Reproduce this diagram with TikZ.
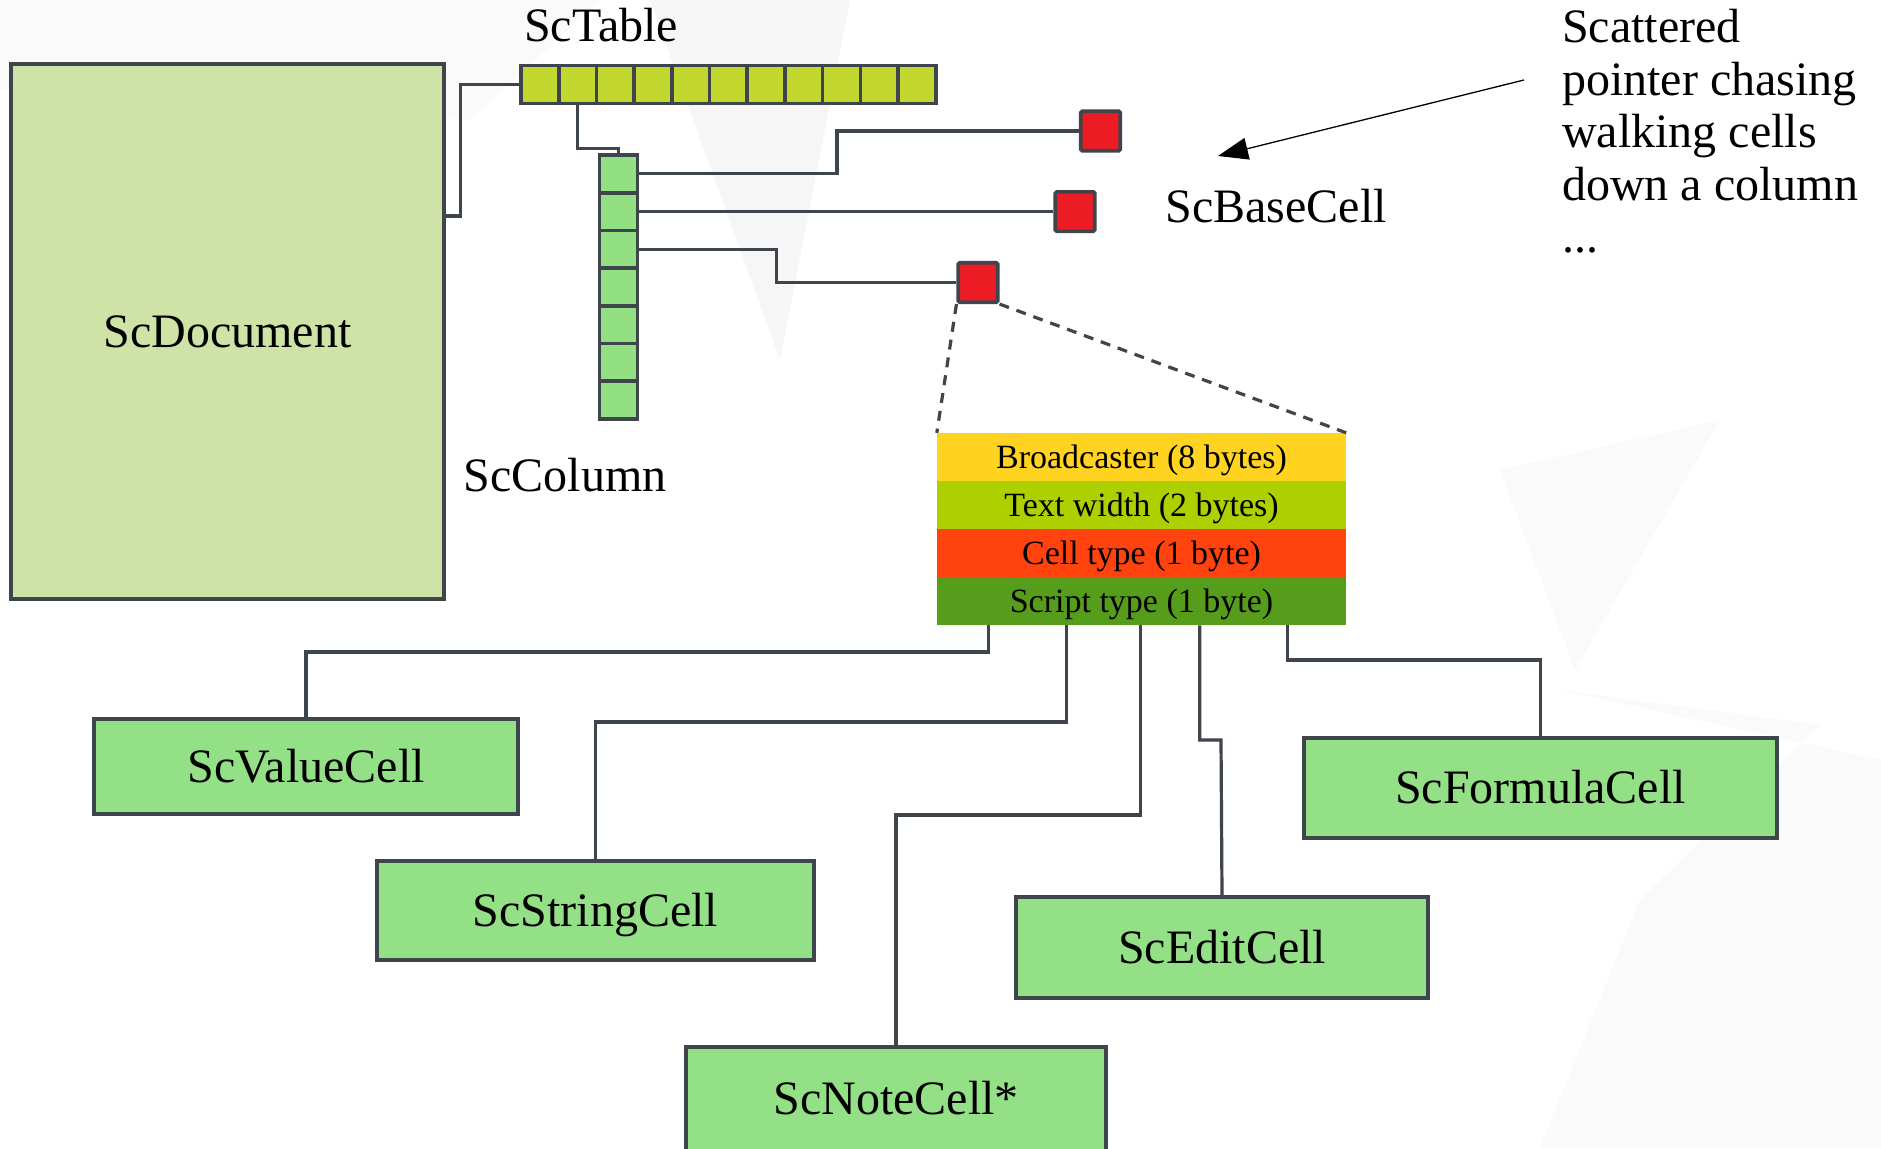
\documentclass[tikz,border=0pt]{standalone}
\usepackage{fontspec}
\setmainfont{Liberation Serif}
\usetikzlibrary{arrows.meta,calc}
\definecolor{edge}{HTML}{3E454C}
\definecolor{docfill}{HTML}{D0E3A6}
\definecolor{tabfill}{HTML}{C2D82E}
\definecolor{colfill}{HTML}{92DF84}
\definecolor{boxfill}{HTML}{94E086}
\definecolor{redfill}{HTML}{ED1C24}
\definecolor{lyellow}{HTML}{FFD320}
\definecolor{llime}{HTML}{AECF00}
\definecolor{lorange}{HTML}{FF420E}
\definecolor{lgreen}{HTML}{579D1C}
\definecolor{bgA}{HTML}{F6F6F6}
\definecolor{bgB}{HTML}{FAFAFA}
\tikzset{
  biglbl/.style={font=\fontsize{48}{52.5}\selectfont, inner sep=0pt, text height=32pt, text depth=0pt},
  classbox/.style={biglbl, draw=edge, line width=3.5pt, fill=boxfill},
  tcell/.style={draw=edge, line width=3.6pt, fill=tabfill, minimum size=37.7pt, inner sep=0pt},
  ccell/.style={draw=edge, line width=3.6pt, fill=colfill, minimum size=37.7pt, inner sep=0pt},
  rbox/.style={draw=edge, line width=3.6pt, fill=redfill, minimum size=39.5pt, inner sep=0pt, rounded corners=1.5pt},
  conn/.style={draw=edge, line width=3.2pt},
  dashedge/.style={draw=edge, line width=3.2pt, dash pattern=on 10pt off 8pt},
  layer/.style={minimum width=409pt, minimum height=47.75pt, inner sep=0pt, font=\fontsize{34}{40}\selectfont, text height=23pt, text depth=0pt}
}
\begin{document}
\begin{tikzpicture}[x=1pt,y=-1pt]
\useasboundingbox (0,0) rectangle (1881,1148);
\fill[white] (0,0) rectangle (1881,1148);
% faint background shapes
\fill[bgB] (0,0) -- (600,0) -- (470,120) -- (0,90) -- cycle;
\fill[bgA] (650,0) -- (850,0) -- (780,360) -- cycle;
\fill[bgB] (1500,470) -- (1720,420) -- (1575,670) -- cycle;
\fill[bgB] (1560,690) -- (1820,725) -- (1640,900) -- (1540,1148) -- (1881,1148) -- (1881,760) -- cycle;

% ScDocument
\node[biglbl, draw=edge, line width=3.5pt, fill=docfill, minimum width=433pt, minimum height=535pt] (doc) at (227.5,331.5) {ScDocument};

% ScTable cells
\foreach \i in {0,...,10} {
  \node[tcell] (t\i) at ({521+37.7*\i+18.85},84.5) {};
}
\node[biglbl] (tablbl) at (601,26) {ScTable};

% ScColumn cells
\foreach \i in {0,...,6} {
  \node[ccell] (c\i) at (618.5,{155+37.7*\i+18.85}) {};
}
\node[biglbl] (collbl) at (565,475) {ScColumn};

% red cells
\node[rbox] (r1) at (1100.5,131) {};
\node[rbox] (r2) at (1075,211.55) {};
\node[rbox] (r3) at (978,282.5) {};
\node[biglbl] (baselbl) at (1276,206) {ScBaseCell};

% connectors top
\draw[conn] ($(doc.east)+(0,-115.5)$) -| ($(t0.west)+(-59,0)$) -- (t0.west);
\draw[conn] (t1.south) |- ($(c0.north)+(0,-5)$) -- (c0.north);
\draw[conn] (c0.east) -| ($(r1.west)+(-242,0)$) -- (r1.west);
\draw[conn] (c1.east) -- (r2.west);
\draw[conn] (c2.east) -| ($(r3.west)+(-180,0)$) -- (r3.west);

% layout block
\node[layer, fill=lyellow] (l1) at (1141.5,456.9) {Broadcaster (8 bytes)};
\node[layer, fill=llime, anchor=north] (l2) at (l1.south) {Text width (2 bytes)};
\node[layer, fill=lorange, anchor=north] (l3) at (l2.south) {Cell type (1 byte)};
\node[layer, fill=lgreen, anchor=north] (l4) at (l3.south) {Script type (1 byte)};

\draw[dashedge] (r3.south west) -- (l1.north west);
\draw[dashedge] (r3.south east) -- (l1.north east);

% annotation
\node[font=\fontsize{48}{52.5}\selectfont, inner sep=0pt, align=left, anchor=north west] (note) at (1562,9.2)
  {Scattered\\pointer chasing\\walking cells\\down a column\\...};
\coordinate (as) at (1524,80);
\coordinate (ae) at (1218,156);
\draw[line width=1.3pt, -{Triangle[length=30pt,width=22pt]}] (as) -- (ae);

% class boxes
\node[classbox, minimum width=424pt, minimum height=95pt, anchor=north] (val) at (306,717) {ScValueCell};
\node[classbox, minimum width=437pt, minimum height=99pt, anchor=north] (str) at (595.5,859) {ScStringCell};
\node[classbox, minimum width=420pt, minimum height=104pt, anchor=north] (notecell) at (896,1045) {ScNoteCell*};
\node[classbox, minimum width=412pt, minimum height=101pt, anchor=north] (edit) at (1222,895) {ScEditCell};
\node[classbox, minimum width=473pt, minimum height=100pt, anchor=north] (form) at (1540.5,736) {ScFormulaCell};

% connectors bottom
\draw[conn] ($(l4.south west)+(52,0)$) |- ($(val.north)+(0,-65)$) -- (val.north);
\draw[conn] ($(l4.south west)+(130,0)$) |- ($(str.north)+(0,-137)$) -- (str.north);
\draw[conn] ($(l4.south west)+(204,0)$) |- ($(notecell.north)+(0,-230)$) -- (notecell.north);
\draw[conn] ($(l4.south west)+(263,0)$) |- ($(edit.north)+(-1,-155)$) -- (edit.north);
\draw[conn] ($(l4.south west)+(351,0)$) |- ($(form.north)+(0,-76)$) -- (form.north);
\end{tikzpicture}
\end{document}
